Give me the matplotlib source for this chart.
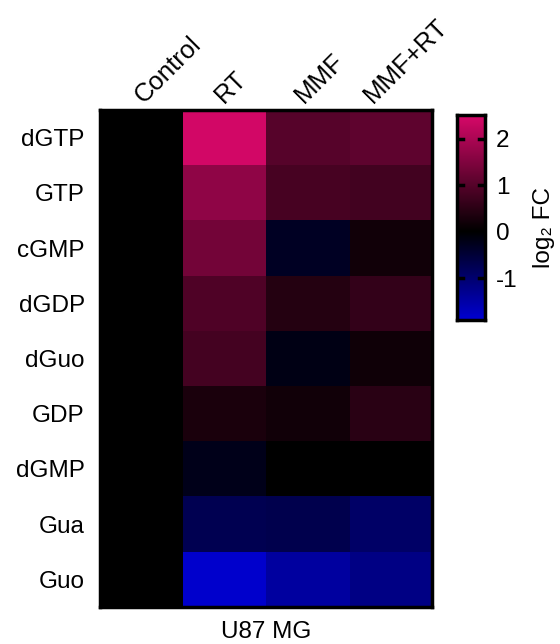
import matplotlib
matplotlib.use("Agg")
import matplotlib.pyplot as plt
import numpy as np
from matplotlib.colors import LinearSegmentedColormap, TwoSlopeNorm

plt.rcParams["font.family"] = ["Liberation Sans", "DejaVu Sans"]

metabolites = ["dGTP", "GTP", "cGMP", "dGDP", "dGuo", "GDP", "dGMP", "Gua", "Guo"]
groups = ["Control", "RT", "MMF", "MMF+RT"]

control = [0, 0, 0, 0, 0, 0, 0, 0, 0]
rt = [2.45, 1.67, 1.33, 0.93, 0.79, 0.30, -0.23, -0.74, -1.85]
mmf = [1.00, 0.83, -0.32, 0.42, -0.19, 0.21, 0.0, -0.70, -1.44]
mmf_rt = [1.10, 0.77, 0.21, 0.60, 0.18, 0.48, 0.0, -0.93, -1.20]

vmin, vmax = -1.9, 2.5
FS = 17.5
# small per-column nudges so rotated labels sit like the original
label_shift = [0.064, 0.04, 0.004, -0.165]

data = np.column_stack([control, rt, mmf, mmf_rt])

cmap = LinearSegmentedColormap.from_list(
    "bkm", [(0.0, (0, 0, 0.82)), (0.5, (0, 0, 0)), (1.0, (0.84, 0.03, 0.41))]
)
norm = TwoSlopeNorm(vcenter=0, vmin=vmin, vmax=vmax)

fig = plt.figure(figsize=(5.6, 6.44), dpi=100)
ax = fig.add_axes([0.1786, 0.0575, 0.593, 0.7717])
ax.imshow(data, cmap=cmap, norm=norm, aspect="auto", interpolation="nearest")

ax.set_yticks(range(len(metabolites)))
ax.set_yticklabels(metabolites, fontsize=FS)
ax.set_xticks(np.arange(len(groups)) + np.array(label_shift))
ax.set_xticklabels(groups, fontsize=18.5, rotation=45, ha="left", va="bottom",
                   rotation_mode="anchor")
ax.xaxis.tick_top()
ax.tick_params(axis="y", length=0, pad=11)
ax.tick_params(axis="x", length=0, pad=1.5)
for s in ax.spines.values():
    s.set_linewidth(2.5)
ax.set_xlabel("U87 MG", fontsize=FS, labelpad=10)

cax = fig.add_axes([0.816, 0.503, 0.05, 0.318])
grad = np.linspace(vmax, vmin, 256).reshape(-1, 1)
cax.imshow(grad, cmap=cmap, norm=norm, aspect="auto",
           extent=[0, 1, vmin, vmax])
cax.set_xticks([])
cax.yaxis.tick_right()
cax.set_yticks([2, 1, 0, -1])
cax.set_yticklabels(["2", "1", "0", "-1"], fontsize=FS)
cax.tick_params(axis="y", length=0, pad=8)
for t in [2, 1, -1]:
    cax.plot([0, 0.22], [t, t], color="black", lw=2.5)
    cax.plot([0.78, 1], [t, t], color="black", lw=2.5)
cax.set_xlim(0, 1)
cax.set_ylim(vmin, vmax)
for s in cax.spines.values():
    s.set_linewidth(2.5)
cax.yaxis.set_label_position("right")
cax.set_ylabel("log\u2082 FC", fontsize=FS, labelpad=11)
cax.yaxis.label.set_y(0.45)

fig.savefig("out.png", dpi=100)
